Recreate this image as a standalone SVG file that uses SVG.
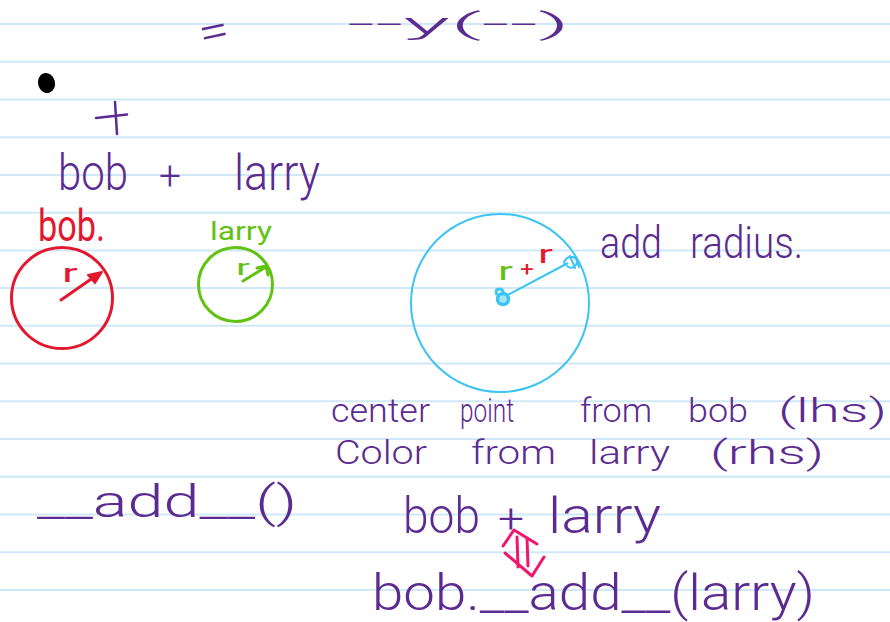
<svg xmlns="http://www.w3.org/2000/svg" width="890" height="622" viewBox="0 0 890 622">
<style>
.rule{stroke:#cfe9f8;stroke-width:2}
.ink{font-family:Roboto,"Open Sans","Liberation Sans",sans-serif;font-weight:300;fill:#5b2b91}
.red{font-family:Roboto,"Liberation Sans",sans-serif;font-weight:400;fill:#e2192e}
.grn{font-family:Roboto,"Liberation Sans",sans-serif;font-weight:400;fill:#62c214}
</style>
<rect width="890" height="622" fill="#ffffff"/>
<g id="ruled-lines">
<line class="rule" x1="0" y1="24" x2="890" y2="24"/>
<line class="rule" x1="0" y1="61.7" x2="890" y2="61.7"/>
<line class="rule" x1="0" y1="99.5" x2="890" y2="99.5"/>
<line class="rule" x1="0" y1="137.2" x2="890" y2="137.2"/>
<line class="rule" x1="0" y1="174.9" x2="890" y2="174.9"/>
<line class="rule" x1="0" y1="212.7" x2="890" y2="212.7"/>
<line class="rule" x1="0" y1="250.4" x2="890" y2="250.4"/>
<line class="rule" x1="0" y1="288.1" x2="890" y2="288.1"/>
<line class="rule" x1="0" y1="325.8" x2="890" y2="325.8"/>
<line class="rule" x1="0" y1="363.6" x2="890" y2="363.6"/>
<line class="rule" x1="0" y1="401.3" x2="890" y2="401.3"/>
<line class="rule" x1="0" y1="439" x2="890" y2="439"/>
<line class="rule" x1="0" y1="476.8" x2="890" y2="476.8"/>
<line class="rule" x1="0" y1="514.5" x2="890" y2="514.5"/>
<line class="rule" x1="0" y1="552.2" x2="890" y2="552.2"/>
<line class="rule" x1="0" y1="590" x2="890" y2="590"/>
</g>
<g id="top-fragment">
<text class="ink" x="198" y="47" font-size="46" textLength="30" lengthAdjust="spacingAndGlyphs" transform="rotate(-12 212 28)">=</text>
<text class="ink" x="347" y="34" font-size="30" textLength="223" lengthAdjust="spacingAndGlyphs">--y(--)</text>
</g>
<g id="bullet">
<ellipse cx="46.5" cy="83" rx="8.5" ry="10" fill="#000000" transform="rotate(-15 46.5 83)"/>
</g>
<g id="plus-sign">
<path d="M96 118 L127 114.5 M115 102 L117 134" stroke="#5b2b91" stroke-width="2.5" fill="none" stroke-linecap="round"/>
</g>
<g id="bob-plus-larry-top">
<text class="ink" x="58" y="190" font-size="50" textLength="70" lengthAdjust="spacingAndGlyphs">bob</text>
<text class="ink" x="159" y="190" font-size="40" textLength="22" lengthAdjust="spacingAndGlyphs">+</text>
<text class="ink" x="234" y="190" font-size="50" textLength="86" lengthAdjust="spacingAndGlyphs">larry</text>
</g>
<g id="bob-circle">
<text class="red" x="38" y="241" font-size="44" textLength="67" lengthAdjust="spacingAndGlyphs">bob.</text>
<circle cx="62" cy="298" r="50.5" fill="none" stroke="#e2192e" stroke-width="3"/>
<path d="M61 300 L97 275" stroke="#e2192e" stroke-width="3" fill="none" stroke-linecap="round"/>
<polygon points="102,272 88,275 95,283" fill="#e2192e" stroke="#e2192e" stroke-width="2" stroke-linejoin="round"/>
<text class="red" x="62" y="282" font-size="26" font-weight="700" textLength="16" lengthAdjust="spacingAndGlyphs">r</text>
</g>
<g id="larry-circle">
<text class="grn" x="210" y="240" font-size="26" textLength="62" lengthAdjust="spacingAndGlyphs">larry</text>
<circle cx="235.5" cy="284.5" r="37" fill="none" stroke="#62c214" stroke-width="3"/>
<path d="M243 281 L266 267 M257 268 L266 266 L268 275" stroke="#62c214" stroke-width="3" fill="none" stroke-linecap="round" stroke-linejoin="round"/>
<text class="grn" x="236" y="275" font-size="22" font-weight="700" textLength="14" lengthAdjust="spacingAndGlyphs">r</text>
</g>
<g id="sum-circle">
<circle cx="500" cy="303" r="89" fill="none" stroke="#3cc4f2" stroke-width="2"/>
<path d="M506 296 L568 263" stroke="#3cc4f2" stroke-width="2" fill="none"/>
<circle cx="503" cy="299" r="5.5" fill="#a8e4f8" stroke="#3cc4f2" stroke-width="3.5"/>
<path d="M497 295 q-3 -6 3 -6 q5 1 2 6" stroke="#3cc4f2" stroke-width="3" fill="none"/>
<path d="M564 263 q2 -7 9 -6 q6 2 3 8 q-4 5 -9 1 M570 256 l5 12 M575 256 l4 11" stroke="#3cc4f2" stroke-width="2" fill="none" stroke-linecap="round"/>
<text class="grn" x="498" y="280" font-size="26" font-weight="700" textLength="15" lengthAdjust="spacingAndGlyphs">r</text>
<text class="red" x="520" y="276" font-size="20" font-weight="500" textLength="14" lengthAdjust="spacingAndGlyphs">+</text>
<text class="red" x="538" y="263" font-size="26" font-weight="700" textLength="15" lengthAdjust="spacingAndGlyphs">r</text>
</g>
<g id="add-radius">
<text class="ink" x="600" y="258" font-size="44" textLength="62" lengthAdjust="spacingAndGlyphs">add</text>
<text class="ink" x="690" y="258" font-size="44" textLength="113" lengthAdjust="spacingAndGlyphs">radius.</text>
</g>
<g id="notes">
<text class="ink" x="331" y="422" font-size="34" textLength="99" lengthAdjust="spacingAndGlyphs">center</text>
<text class="ink" x="460" y="422" font-size="34" textLength="54" lengthAdjust="spacingAndGlyphs">point</text>
<text class="ink" x="580" y="422" font-size="34" textLength="72" lengthAdjust="spacingAndGlyphs">from</text>
<text class="ink" x="688" y="422" font-size="34" textLength="60" lengthAdjust="spacingAndGlyphs">bob</text>
<text class="ink" x="778" y="422" font-size="34" textLength="109" lengthAdjust="spacingAndGlyphs">(lhs)</text>
<text class="ink" x="335" y="464" font-size="34" textLength="92" lengthAdjust="spacingAndGlyphs">Color</text>
<text class="ink" x="471" y="464" font-size="34" textLength="85" lengthAdjust="spacingAndGlyphs">from</text>
<text class="ink" x="589" y="464" font-size="34" textLength="81" lengthAdjust="spacingAndGlyphs">larry</text>
<text class="ink" x="710" y="464" font-size="34" textLength="114" lengthAdjust="spacingAndGlyphs">(rhs)</text>
</g>
<g id="dunder-add">
<text class="ink" x="37" y="517" font-size="44" textLength="260" lengthAdjust="spacingAndGlyphs">__add__()</text>
</g>
<g id="bob-plus-larry-bottom">
<text class="ink" x="403" y="533" font-size="50" textLength="77" lengthAdjust="spacingAndGlyphs">bob</text>
<text class="ink" x="498" y="533" font-size="40" textLength="26" lengthAdjust="spacingAndGlyphs">+</text>
<text class="ink" x="548" y="533" font-size="50" textLength="113" lengthAdjust="spacingAndGlyphs">larry</text>
</g>
<g id="equivalence-arrow">
<path d="M503 546 L514 530 L537 544 M505 553 L532 576 L544 557 M517 537 L518 567 M527 538 L528 566" stroke="#f0166c" stroke-width="3" fill="none" stroke-linecap="round" stroke-linejoin="round"/>
</g>
<g id="bob-dunder-add-larry">
<text class="ink" x="372" y="610" font-size="50" textLength="443" lengthAdjust="spacingAndGlyphs">bob.__add__(larry)</text>
</g>
</svg>
